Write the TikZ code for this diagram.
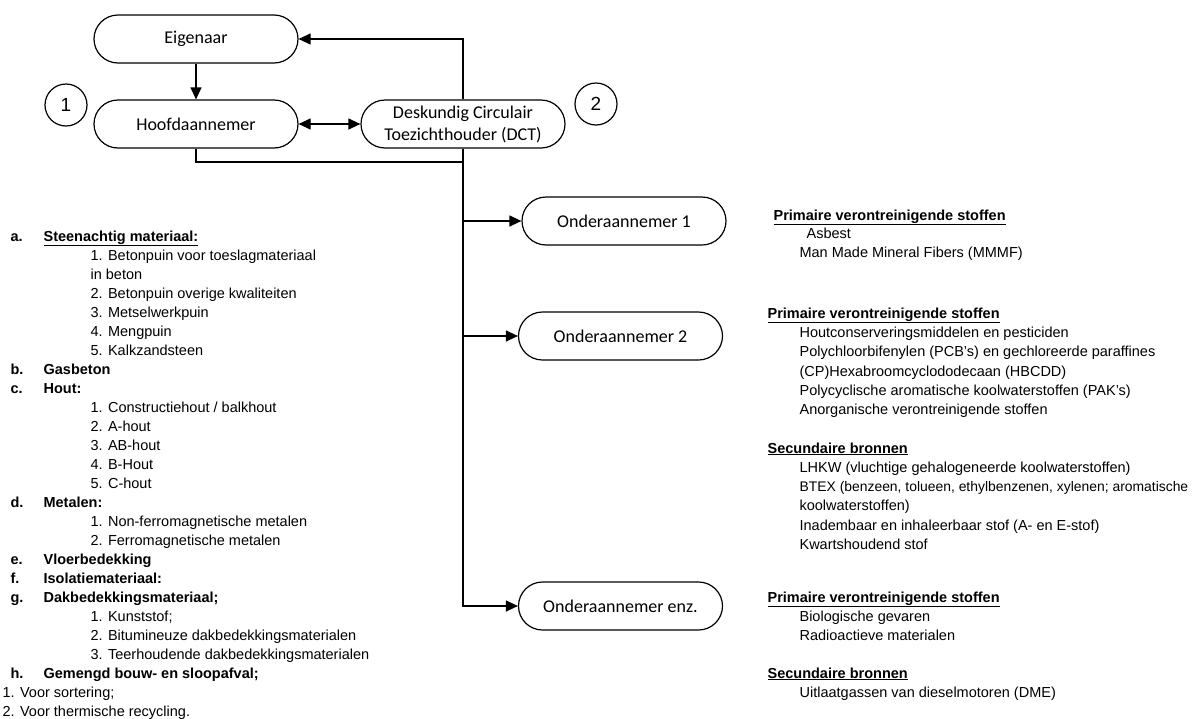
\documentclass[tikz,border=0pt]{standalone}
\usepackage{fontspec}
\setmainfont{Liberation Sans}
\newfontfamily\calibri{Carlito}
\usetikzlibrary{arrows.meta}
\newcommand{\kop}[2]{\makebox[33pt][l]{\textbf{#1}}\textbf{#2}}

\begin{document}
\begin{tikzpicture}[x=1pt, y=-1pt, line width=1.2pt,
		box/.style={draw, fill=white, rounded corners=24pt, minimum width=204pt, minimum height=48pt, inner sep=0pt, align=center, font=\calibri\fontsize{18}{22}\selectfont},
		num/.style={circle, draw, minimum size=42pt, inner sep=0pt, font=\fontsize{19}{22}\selectfont},
		txt/.style={anchor=base west, inner sep=0pt, font=\fontsize{14.5}{19}\selectfont},
		pijl/.style={-{Triangle[length=12pt,width=11pt]}},
		tweepijl/.style={{Triangle[length=12pt,width=11pt]}-{Triangle[length=12pt,width=11pt]}}
		]
	\useasboundingbox (0,0) rectangle (1197,718);

	% organisatie
	\node [box] (eig) at (196,39) {Eigenaar};
	\node [box] (hfd) at (196,124) {Hoofdaannemer};
	\node [box] (dct) at (463,124) {Deskundig Circulair\\Toezichthouder (DCT)};
	\node [num] (n1) at (66,105) {1};
	\node [num] (n2) at (596,104) {2};
	\node [box] (ond1) at (624,221) {Onderaannemer 1};
	\node [box] (ond2) at (620.5,336) {Onderaannemer 2};
	\node [box] (ond3) at (620.5,606) {Onderaannemer enz.};
	\coordinate (bus) at (463,162);

	\draw [pijl] (eig) -- (hfd);
	\draw [tweepijl] (hfd) -- (dct);
	\draw [pijl] (dct.north) |- (eig.east);
	\draw (hfd.south) |- (bus);
	\draw [pijl] (dct.south) |- (ond1.west);
	\draw [pijl] (bus) |- (ond2.west);
	\draw [pijl] (bus) |- (ond3.west);

	% materialen
	\foreach \x/\t [count=\k from 0] in {
		10/{\kop{a.}{\underline{Steenachtig materiaal:}}},
		90/{1. Betonpuin voor toeslagmateriaal},
		90/{in beton},
		90/{2. Betonpuin overige kwaliteiten},
		90/{3. Metselwerkpuin},
		90/{4. Mengpuin},
		90/{5. Kalkzandsteen},
		10/{\kop{b.}{Gasbeton}},
		10/{\kop{c.}{Hout:}},
		90/{1. Constructiehout / balkhout},
		90/{2. A-hout},
		90/{3. AB-hout},
		90/{4. B-Hout},
		90/{5. C-hout},
		10/{\kop{d.}{Metalen:}},
		90/{1. Non-ferromagnetische metalen},
		90/{2. Ferromagnetische metalen},
		10/{\kop{e.}{Vloerbedekking}},
		10/{\kop{f.}{Isolatiemateriaal:}},
		10/{\kop{g.}{Dakbedekkingsmateriaal;}},
		90/{1. Kunststof;},
		90/{2. Bitumineuze dakbedekkingsmaterialen},
		90/{3. Teerhoudende dakbedekkingsmaterialen},
		10/{\kop{h.}{Gemengd bouw- en sloopafval;}},
		2/{1. Voor sortering;},
		2/{2. Voor thermische recycling.}}
		\node [txt] (links\k) at (\x,{241+19*\k}) {\t};

	% stoffen
	\foreach \x/\y/\t [count=\k] in {
		773/220/{\underline{\textbf{Primaire verontreinigende stoffen}}},
		806/238/{Asbest},
		799/257/{Man Made Mineral Fibers (MMMF)},
		767/318/{\underline{\textbf{Primaire verontreinigende stoffen}}},
		799/337/{Houtconserveringsmiddelen en pesticiden},
		799/356/{Polychloorbifenylen (PCB's) en gechloreerde paraffines},
		799/376/{(CP)Hexabroomcyclododecaan (HBCDD)},
		799/395/{Polycyclische aromatische koolwaterstoffen (PAK's)},
		799/414/{Anorganische verontreinigende stoffen},
		767/453/{\underline{\textbf{Secundaire bronnen}}},
		799/472/{LHKW (vluchtige gehalogeneerde koolwaterstoffen)},
		799/491/{\fontsize{13.9}{19}\selectfont BTEX (benzeen, tolueen, ethylbenzenen, xylenen; aromatische},
		799/510/{koolwaterstoffen)},
		799/530/{Inadembaar en inhaleerbaar stof (A- en E-stof)},
		799/549/{Kwartshoudend stof},
		767/602/{\underline{\textbf{Primaire verontreinigende stoffen}}},
		799/621/{Biologische gevaren},
		799/640/{Radioactieve materialen},
		767/678/{\underline{\textbf{Secundaire bronnen}}},
		799/697/{Uitlaatgassen van dieselmotoren (DME)}}
		\node [txt] (rechts\k) at (\x,\y) {\t};
\end{tikzpicture}
\end{document}
